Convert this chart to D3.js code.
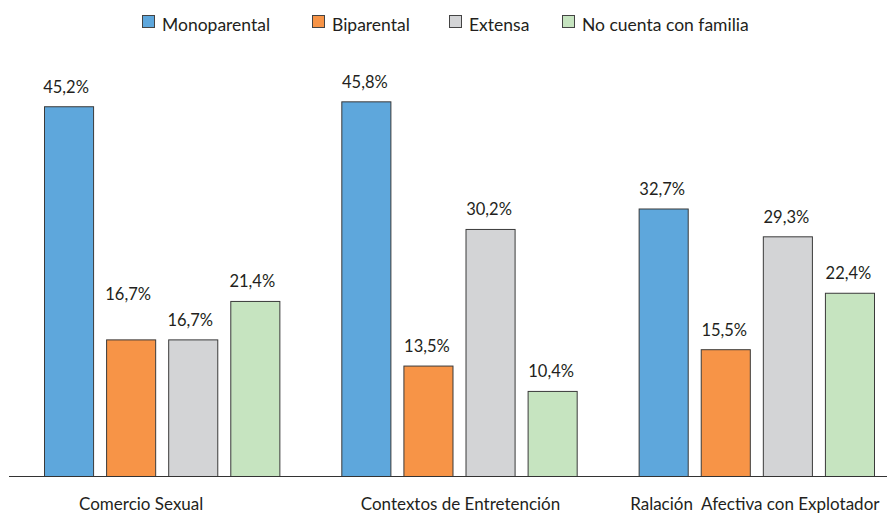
<!DOCTYPE html>
<html>
<head>
<meta charset="utf-8">
<script src="https://cdn.jsdelivr.net/npm/d3@7"></script>
<style>
  html, body { margin: 0; padding: 0; background: #fff; }
  svg { display: block; font-family: 'Lato', 'Open Sans', sans-serif; }
</style>
</head>
<body>
<svg id="chart" width="887" height="516"></svg>
<script>
(function() {
	'use strict';

	const categories = ['Comercio Sexual', 'Contextos de Entretención', 'Ralación  Afectiva con Explotador'];
	const series = ['Monoparental', 'Biparental', 'Extensa', 'No cuenta con familia'];
	const colors = ['#5ea7dc', '#f79447', '#d3d4d6', '#c6e4c0'];
	const values = [
		[45.2, 16.7, 16.7, 21.4],
		[45.8, 13.5, 30.2, 10.4],
		[32.7, 15.5, 29.3, 22.4]
	];

	const svg = d3.select('#chart');
	const width = +svg.attr('width');
	const baseline = 476.5;

	const x0 = d3.scaleBand()
		.domain(categories)
		.range([44, 875])
		.paddingInner(0.205)
		.paddingOuter(0);

	const x1 = d3.scaleBand()
		.domain(series)
		.range([0, x0.bandwidth()])
		.paddingInner(0.1935)
		.paddingOuter(0);

	const y = d3.scaleLinear()
		.domain([0, 46])
		.range([baseline, 100.2]);

	const fmt = function(v) { return d3.format('.1f')(v).replace('.', ',') + '%'; };

	const rows = function(d, i) {
		return values[i].map(function(v, j) { return { s: series[j], v: v, j: j, g: i }; });
	};

	const group = svg.selectAll('.grp')
		.data(categories)
		.enter().append('g')
		.attr('class', 'grp')
		.attr('transform', function(d) { return 'translate(' + x0(d) + ',0)'; });

	group.selectAll('rect')
		.data(rows)
		.enter().append('rect')
		.attr('x', function(d) { return x1(d.s) + 0.5; })
		.attr('y', function(d) { return y(d.v); })
		.attr('width', x1.bandwidth() - 1)
		.attr('height', function(d) { return baseline - y(d.v); })
		.attr('fill', function(d) { return colors[d.j]; })
		.attr('stroke', '#3a3a3a')
		.attr('stroke-width', 1);

	group.selectAll('text.val')
		.data(rows)
		.enter().append('text')
		.attr('class', 'val')
		.attr('x', function(d) { return x1(d.s) + x1.bandwidth() / 2 - (d.g === 0 ? 3 : 1.5); })
		.attr('y', function(d) {
			// the orange label in the first group sits higher, clear of the grey one
			const lift = (d.g === 0 && d.j === 1) ? 40 : 14;
			return y(d.v) - lift;
		})
		.attr('text-anchor', 'middle')
		.attr('font-size', 16.5)
		.attr('fill', '#231f20')
		.text(function(d) { return fmt(d.v); });

	// baseline
	svg.append('line')
		.attr('x1', 9).attr('x2', width)
		.attr('y1', baseline).attr('y2', baseline)
		.attr('stroke', '#333').attr('stroke-width', 1.2);

	// category labels
	const catShift = [-21, 1, -2];
	svg.selectAll('text.cat')
		.data(categories)
		.enter().append('text')
		.attr('class', 'cat')
		.attr('x', function(d, i) { return x0(d) + x0.bandwidth() / 2 + catShift[i]; })
		.attr('y', 510)
		.attr('text-anchor', 'middle')
		.attr('font-size', 17)
		.attr('fill', '#231f20')
		.style('white-space', 'pre')
		.text(function(d) { return d; });

	// legend
	const legendX = [142, 312, 449, 562];
	const legend = svg.selectAll('.leg')
		.data(series)
		.enter().append('g')
		.attr('class', 'leg')
		.attr('transform', function(d, i) { return 'translate(' + legendX[i] + ',15)'; });

	legend.append('rect')
		.attr('width', 12).attr('height', 12)
		.attr('x', 0.5).attr('y', 0.5)
		.attr('fill', function(d, i) { return colors[i]; })
		.attr('stroke', '#444');

	legend.append('text')
		.attr('x', 20)
		.attr('y', 16)
		.attr('font-size', 17.5)
		.attr('fill', '#231f20')
		.text(function(d) { return d; });
})();
</script>
</body>
</html>
